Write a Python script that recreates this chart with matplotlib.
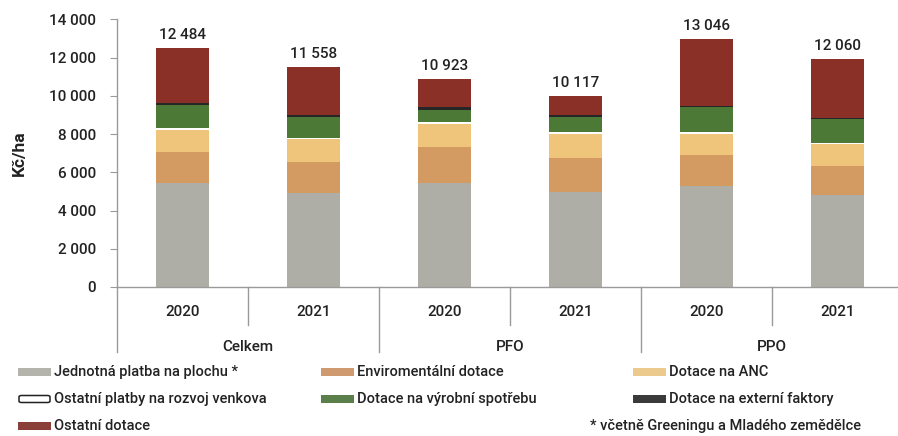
import matplotlib
matplotlib.use("Agg")
import matplotlib.pyplot as plt
from matplotlib.patches import Rectangle, FancyBboxPatch
from matplotlib.lines import Line2D
import numpy as np

plt.rcParams['font.family'] = ['Roboto', 'DejaVu Sans']
plt.rcParams['font.weight'] = 'medium'

years = ['2020', '2021', '2020', '2021', '2020', '2021']
groups = ['Celkem', 'PFO', 'PPO']
totals = [12484, 11558, 10923, 10117, 13046, 12060]

jednotna = [5420, 4930, 5450, 4980, 5280, 4810]
enviro = [1650, 1620, 1880, 1790, 1620, 1530]
anc = [1130, 1170, 1190, 1210, 1080, 1130]
ostatni_platby = [90, 80, 120, 140, 100, 70]
vyrobni = [1220, 1070, 640, 780, 1310, 1220]
externi = [90, 100, 120, 100, 80, 100]
ostatni_dotace = [2890, 2540, 1470, 990, 3490, 3050]

series_names = ['Jednotná platba na plochu *', 'Enviromentální dotace', 'Dotace na ANC',
                'Ostatní platby na rozvoj venkova', 'Dotace na výrobní spotřebu',
                'Dotace na externí faktory', 'Ostatní dotace']
series_vals = [jednotna, enviro, anc, ostatni_platby, vyrobni, externi, ostatni_dotace]
colors = ['#aeaea6', '#d39a62', '#efc57c', '#ffffff', '#4c7a36', '#262626', '#8a3026']
legend_colors = ['#b4b4ac', '#cf9a70', '#ecc98c', '#ffffff', '#5a7f4a', '#3a3a3a', '#8a4038']

W, H = 898, 436
fig = plt.figure(figsize=(W / 100, H / 100), dpi=100)

ax_left, ax_right, ax_bottom, ax_top = 117, 903, 287, 19.3
ax = fig.add_axes([ax_left / W, 1 - ax_bottom / H, (ax_right - ax_left) / W, (ax_bottom - ax_top) / H])

x = np.arange(len(years))
bottom = np.zeros(len(years))
for vals, c in zip(series_vals, colors):
    ax.bar(x, vals, width=0.4, bottom=bottom, color=c, edgecolor='none', zorder=2)
    bottom += np.array(vals)

ax.set_xlim(-0.5, 5.5)
ax.set_ylim(0, 14000)
txtc = '#222222'
for xi, t in zip(x, totals):
    ax.text(xi, bottom[xi] + 330, f"{t:,}".replace(',', ' '), ha='center', va='bottom',
            fontsize=11, color=txtc)

yt = np.arange(0, 14001, 2000)
ax.set_yticks(yt)
ax.set_yticklabels([f"{v:,}".replace(',', ' ') for v in yt], fontsize=11, color=txtc)
ax.set_xticks([])
ax.tick_params(axis='y', length=5, color='#9a9a9a', pad=10)
for s in ['top', 'right']:
    ax.spines[s].set_visible(False)
for s in ['left', 'bottom']:
    ax.spines[s].set_color('#9a9a9a')
    ax.spines[s].set_linewidth(1)

ax.set_ylabel('Kč/ha', fontsize=12.5, fontweight='bold', color=txtc, labelpad=16)

def ay(py):
    return -(py - ax_bottom) / (ax_bottom - ax_top)

tr = ax.get_xaxis_transform()
for i, yr in enumerate(years):
    ax.text(i, ay(312), yr, transform=tr, ha='center', va='center', fontsize=11, color=txtc)
for g, name in enumerate(groups):
    ax.text(2 * g + 0.5, ay(347), name, transform=tr, ha='center', va='center', fontsize=11, color=txtc)
for b in [-0.5, 1.5, 3.5]:
    ax.add_line(Line2D([b, b], [0, ay(352)], transform=tr, color='#9a9a9a', lw=1, clip_on=False))
for b in [0.5, 2.5, 4.5]:
    ax.add_line(Line2D([b, b], [0, ay(325)], transform=tr, color='#9a9a9a', lw=1, clip_on=False))

def fx(px):
    return px / W

def fy(py):
    return 1 - py / H

layout = [(18, 372), (321, 372), (633, 372), (18, 399), (321, 399), (633, 399), (18, 426)]
for (px, py), name, c in zip(layout, series_names, legend_colors):
    if c == '#ffffff':
        p = FancyBboxPatch((fx(px + 1), fy(py + 3.5)), 31 / W, 7 / H,
                           boxstyle='round,pad=0,rounding_size=0.003',
                           transform=fig.transFigure, facecolor='white', edgecolor='#222222', lw=1.1)
    else:
        p = Rectangle((fx(px), fy(py + 4)), 33 / W, 8 / H, transform=fig.transFigure,
                      facecolor=c, edgecolor='none')
    fig.add_artist(p)
    fig.text(fx(px + 36), fy(py), name, ha='left', va='center', fontsize=10.5, color=txtc)

fig.text(fx(590), fy(426), '* včetně Greeningu a Mladého zemědělce', ha='left', va='center',
         fontsize=10.5, color=txtc)

fig.savefig('out.png', dpi=100, facecolor='white')
